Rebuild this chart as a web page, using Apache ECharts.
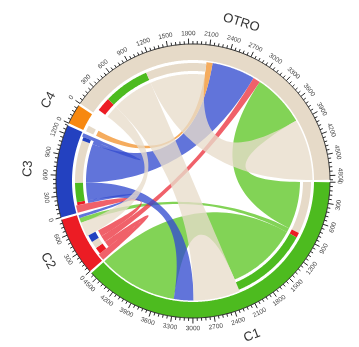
<!DOCTYPE html>
<html>
<head>
<meta charset="utf-8">
<script src="https://cdn.jsdelivr.net/npm/echarts@6/dist/echarts.min.js"></script>
<style>
html, body { margin: 0; padding: 0; background: #ffffff; }
#chart { width: 359px; height: 347px; }
</style>
</head>
<body>
<div id="chart"></div>
<script>
// Sectors, clockwise from 3 o'clock
const sectorNames = ['C1', 'C2', 'C3', 'C4', 'OTRO'];
const sectorSizes = [4600, 830, 1320, 285, 4860];
const sectorColors = ['#4dbb1f', '#ec1c24', '#2341c0', '#f7880f', '#e6dac8'];
const ribbonColors = ['#5fc626', '#ec3440', '#344dcf', '#f29531', '#e8dccb'];

// Flows: origin, destination, amount, offset inside origin sector, offset inside destination sector
const linkFrom   = ['C1',   'C1', 'C1',  'C2', 'C2',   'C2', 'C3', 'C3', 'C3',   'C3', 'C4',   'OTRO', 'OTRO', 'OTRO'];
const linkTo     = ['OTRO', 'C2', 'C1',  'C2', 'OTRO', 'C3', 'C2', 'C1', 'OTRO', 'C3', 'OTRO', 'C2',   'C1',   'OTRO'];
const linkValue  = [860,    80,   1290,  110,  120,    120,  50,   320,  702,    58,   100,    234,    760,    1000];
const linkFromAt = [0,      860,  940,   110,  220,    340,  120,  170,  490,    1192, 0,      84,     318,    1078];
const linkToAt   = [3000,   694,  3310,  0,    2880,   0,    774,  2990, 2178,   1250, 2078,   460,    2230,   3860];

// Axis ticks along each sector
const majorStep = 300;
const minorStep = 60;

const GAP = 33.5;
const sectorIndex = {};
sectorNames.forEach((n, i) => { sectorIndex[n] = i; });
const sectorStart = [];
let acc = GAP / 2;
sectorSizes.forEach(s => { sectorStart.push(acc); acc += s + GAP; });
const TOTAL = acc - GAP / 2;

// Track radii (radius axis units)
const R_OUT = 137, R_RING_IN = 121;
const R_BAR_OUT = 118, R_BAR_IN = 110;
const R_SRC = 107, R_TGT = 119.5;
const R_TICKLABEL = 144, R_NAME = 159;

function thetaOf(pos) { return pos / TOTAL * 360; }

function arcPoints(api, r, a, b, out) {
  const n = Math.max(2, Math.ceil(Math.abs(b - a) / 15));
  for (let k = 0; k <= n; k++) {
    out.push(api.coord([r, a + (b - a) * k / n]));
  }
  return out;
}

function bezierPoints(p0, c, p2, out) {
  const n = 40;
  for (let k = 1; k < n; k++) {
    const t = k / n, u = 1 - t;
    out.push([u * u * p0[0] + 2 * u * t * c[0] + t * t * p2[0],
              u * u * p0[1] + 2 * u * t * c[1] + t * t * p2[1]]);
  }
  return out;
}

function band(api, r0, r1, a, b) {
  const pts = [];
  arcPoints(api, r1, a, b, pts);
  const inner = arcPoints(api, r0, a, b, []).reverse();
  return pts.concat(inner);
}

function textPlacement(theta) {
  const flip = theta > 0 && theta < 180;
  const rot = flip ? theta - 90 : theta + 90;
  return { rotation: -rot * Math.PI / 180, verticalAlign: flip ? 'top' : 'bottom' };
}

function renderRibbon(params, api) {
  const i = params.dataIndex;
  const s = sectorIndex[linkFrom[i]], t = sectorIndex[linkTo[i]];
  const a1 = sectorStart[s] + linkFromAt[i], a2 = a1 + linkValue[i];
  const b1 = sectorStart[t] + linkToAt[i], b2 = b1 + linkValue[i];
  const c = api.coord([0, 0]);
  const pts = [];
  arcPoints(api, R_SRC, a1, a2, pts);
  bezierPoints(api.coord([R_SRC, a2]), c, api.coord([R_TGT, b1]), pts);
  arcPoints(api, R_TGT, b1, b2, pts);
  bezierPoints(api.coord([R_TGT, b2]), c, api.coord([R_SRC, a1]), pts);
  return {
    type: 'polygon',
    shape: { points: pts },
    style: { fill: ribbonColors[s], opacity: 0.78 }
  };
}

function renderBar(params, api) {
  const i = params.dataIndex;
  const s = sectorIndex[linkFrom[i]], t = sectorIndex[linkTo[i]];
  const a1 = sectorStart[s] + linkFromAt[i], a2 = a1 + linkValue[i];
  return {
    type: 'polygon',
    shape: { points: band(api, R_BAR_IN, R_BAR_OUT, a1, a2) },
    style: { fill: sectorColors[t] }
  };
}

function renderSector(params, api) {
  const k = params.dataIndex;
  const a = sectorStart[k], b = a + sectorSizes[k];
  const mid = (a + b) / 2;
  const tp = textPlacement(thetaOf(mid));
  const p = api.coord([R_NAME, mid]);
  return {
    type: 'group',
    children: [
      { type: 'polygon', shape: { points: band(api, R_RING_IN, R_OUT, a, b) }, style: { fill: sectorColors[k] } },
      { type: 'polyline', shape: { points: arcPoints(api, R_OUT, a, b, []) }, style: { stroke: '#2b2b2b', lineWidth: 1, fill: null } },
      {
        type: 'text', x: p[0], y: p[1], rotation: tp.rotation,
        style: {
          text: sectorNames[k], fontSize: 13, fill: '#333333',
          fontFamily: 'Liberation Sans, Arial, sans-serif',
          align: 'center', verticalAlign: tp.verticalAlign
        }
      }
    ]
  };
}

const tickData = [];
sectorSizes.forEach((size, k) => {
  for (let v = 0; v <= size; v += minorStep) tickData.push([k, v]);
});

function renderTick(params, api) {
  const k = api.value(0), v = api.value(1);
  const pos = sectorStart[k] + v;
  const major = v % majorStep === 0;
  const p0 = api.coord([R_OUT, pos]);
  const p1 = api.coord([R_OUT + (major ? 5.5 : 3), pos]);
  const children = [{
    type: 'line', shape: { x1: p0[0], y1: p0[1], x2: p1[0], y2: p1[1] },
    style: { stroke: '#2b2b2b', lineWidth: 1 }
  }];
  if (major) {
    const tp = textPlacement(thetaOf(pos));
    const q = api.coord([R_TICKLABEL, pos]);
    children.push({
      type: 'text', x: q[0], y: q[1], rotation: tp.rotation,
      style: {
        text: String(v), fontSize: 6.5, fill: '#444444',
        fontFamily: 'Liberation Sans, Arial, sans-serif',
        align: 'center', verticalAlign: tp.verticalAlign
      }
    });
  }
  return { type: 'group', children: children };
}

const chart = echarts.init(document.getElementById('chart'), null, { renderer: 'canvas' });
chart.setOption({
  animation: false,
  backgroundColor: '#ffffff',
  polar: { center: [193, 181], radius: 170 },
  angleAxis: { type: 'value', min: 0, max: TOTAL, startAngle: 0, clockwise: true, show: false },
  radiusAxis: { type: 'value', min: 0, max: 170, show: false },
  series: [
    {
      type: 'custom', coordinateSystem: 'polar', clip: false, silent: true,
      data: linkValue.map((v, i) => [v, i]),
      renderItem: renderRibbon
    },
    {
      type: 'custom', coordinateSystem: 'polar', clip: false, silent: true,
      data: linkValue.map((v, i) => [v, i]),
      renderItem: renderBar
    },
    {
      type: 'custom', coordinateSystem: 'polar', clip: false, silent: true,
      data: sectorSizes.map((v, i) => [v, i]),
      renderItem: renderSector
    },
    {
      type: 'custom', coordinateSystem: 'polar', clip: false, silent: true,
      data: tickData,
      renderItem: renderTick
    }
  ]
});
</script>
</body>
</html>
